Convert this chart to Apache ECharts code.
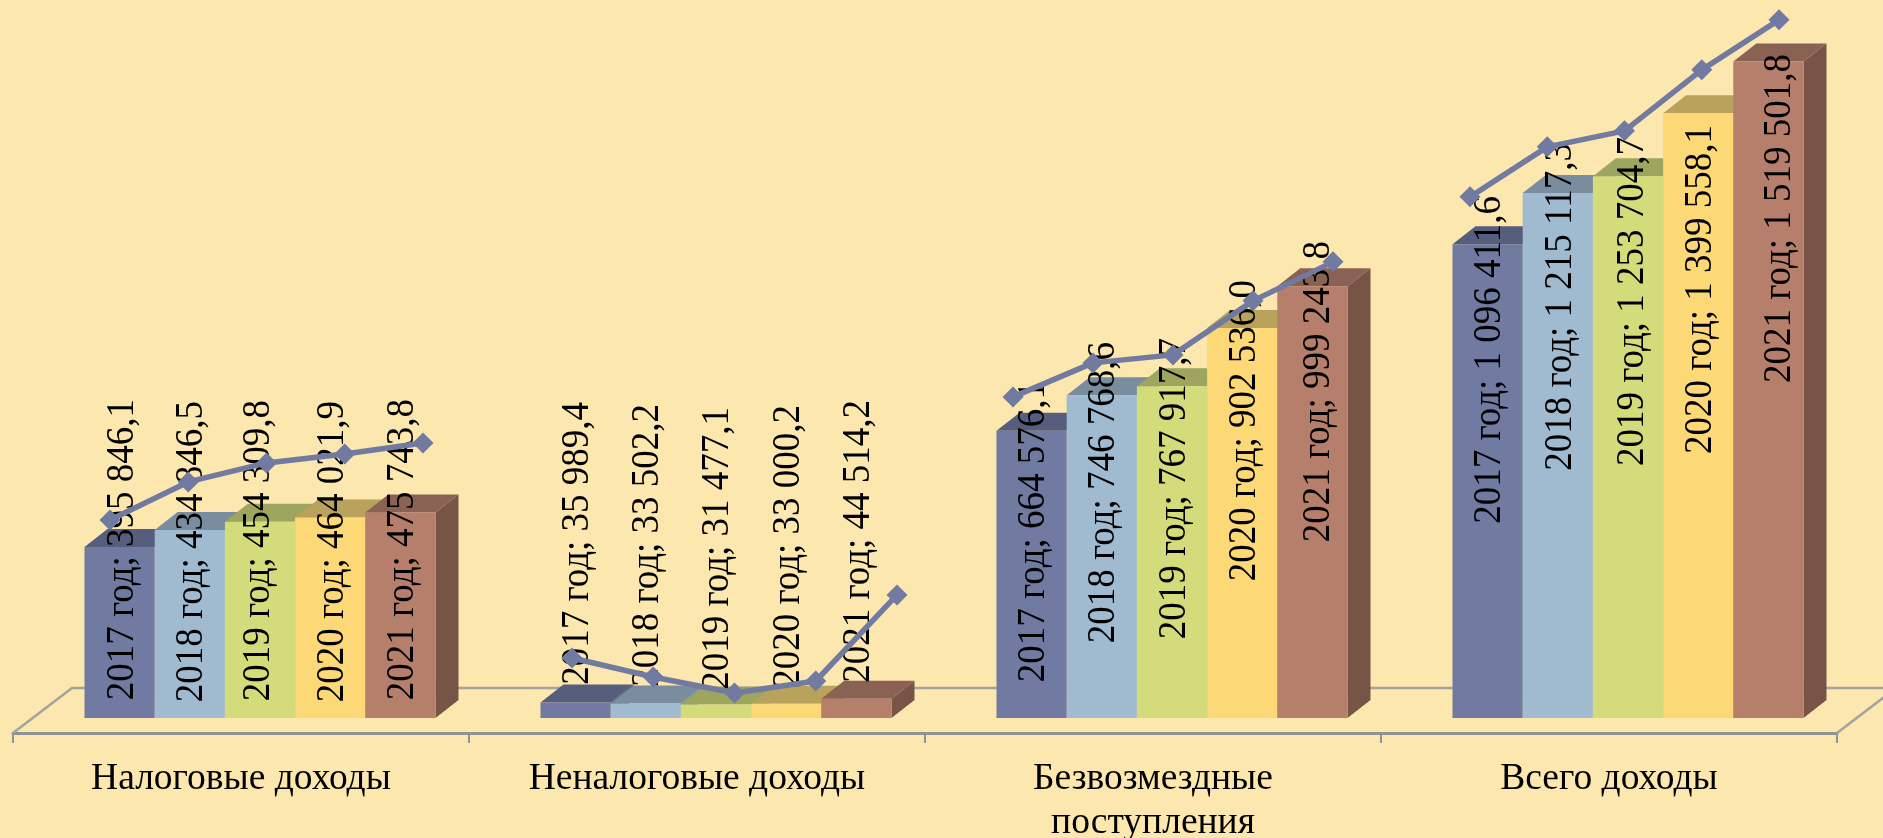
<!DOCTYPE html>
<html style="height: 100%">
<head>
	<meta charset="utf-8">
</head>
<body style="height: 100%; margin: 0; background: #fce7ae">
<div id="container" style="height: 100%"></div>
<script type="text/javascript" src="https://cdn.jsdelivr.net/npm/echarts@6/dist/echarts.min.js"></script>
<script type="text/javascript">
    var categories = ["Налоговые доходы", "Неналоговые доходы", "Безвозмездные\nпоступления", "Всего доходы"];
    var years = ["2017", "2018", "2019", "2020", "2021"];

    // значения столбцов
    var taxIncome = [395846.1, 434846.5, 454309.8, 464021.9, 475743.8];
    var nonTaxIncome = [35989.4, 33502.2, 31477.1, 33000.2, 44514.2];
    var grants = [664576.1, 746768.6, 767917.7, 902536.0, 999243.8];
    var totalIncome = [1096411.6, 1215117.3, 1253704.7, 1399558.1, 1519501.8];

    var taxTrend = [458300, 546300, 590300, 611100, 636600];
    var nonTaxTrend = [138900, 94900, 57900, 85600, 284700];
    var grantsTrend = [743100, 821800, 840300, 965300, 1055600];
    var totalTrend = [1206000, 1321800, 1358800, 1500000, 1615700];

    var barValues = [taxIncome, nonTaxIncome, grants, totalIncome];
    var trendValues = [taxTrend, nonTaxTrend, grantsTrend, totalTrend];

    var frontColors = ['#717aa0', '#a0bacf', '#d4db7a', '#fcd877', '#b67f6c'];
    var topColors = ['#565d7d', '#7a8d9f', '#9ea55e', '#b9a25b', '#8a6254'];
    var sideColors = ['#565d7d', '#7a8d9f', '#9ea55e', '#b9a25b', '#785446'];

    // раскладка в пикселях
    var catPx = 456;
    var barStartPx = 71.5, barWidthPx = 70.2;
    var depthX = 23, depthY = 18;
    var trendStartPx = [97, 103, 88, 89];
    var trendStepPx = [78.25, 81.25, 80, 77.25];
    // на сколько поднят конец подписи над основанием столбца
    var labelRise = [
        [319, 317, 318, 317, 319],
        [316, 314, 311, 313, 318],
        [337, 376, 380, 438, 477],
        [522, 575, 581, 593, 664]
    ];
    // сдвиг подписи вбок от середины столбца
    var labelShift = [
        [1, 0, -3, 0, 0],
        [0, 0, 0, 0, 0],
        [0, 0, 1, 0, 4],
        [0, 1, 3, 0, 9]
    ];
    var labelFont = '37px "Liberation Serif"';

    function fmt(v) {
        var parts = v.toFixed(1).split('.');
        return parts[0].replace(/\B(?=(\d{3})+$)/g, ' ') + ',' + parts[1];
    }

    var barData = [];
    for (var g = 0; g < barValues.length; g++) {
        for (var i = 0; i < years.length; i++) {
            barData.push([g, i, barValues[g][i]]);
        }
    }

    function renderBar(params, api) {
        var g = api.value(0), i = api.value(1);
        var center = api.coord([g, 0]);
        var scale = api.size([1, 0])[0] / catPx;
        var x0 = center[0] - catPx * scale / 2 + (barStartPx + i * barWidthPx) * scale;
        var x1 = x0 + barWidthPx * scale;
        var yb = center[1];
        var yt = api.coord([g, api.value(2)])[1];
        return {
            type: 'group',
            children: [{
                type: 'polygon',
                shape: {points: [[x1, yt], [x1 + depthX, yt - depthY], [x1 + depthX, yb - depthY], [x1, yb]]},
                style: {fill: sideColors[i]}
            }, {
                type: 'polygon',
                shape: {points: [[x0, yt], [x0 + depthX, yt - depthY], [x1 + depthX, yt - depthY], [x1, yt]]},
                style: {fill: topColors[i]}
            }, {
                type: 'rect',
                shape: {x: x0, y: yt, width: x1 - x0, height: yb - yt},
                style: {fill: frontColors[i]}
            }]
        };
    }

    function renderLabel(params, api) {
        var g = api.value(0), i = api.value(1);
        var center = api.coord([g, 0]);
        var scale = api.size([1, 0])[0] / catPx;
        var x0 = center[0] - catPx * scale / 2 + (barStartPx + i * barWidthPx) * scale;
        return {
            type: 'text',
            x: x0 + barWidthPx * scale / 2 + 2 + labelShift[g][i],
            y: center[1] - labelRise[g][i],
            rotation: Math.PI / 2,
            scaleY: 1.08,
            style: {
                text: years[i] + ' год; ' + fmt(api.value(2)),
                font: labelFont,
                fill: '#000',
                textAlign: 'right',
                textVerticalAlign: 'middle'
            }
        };
    }

    // пол диаграммы: задняя линия и боковые рёбра
    function renderFloor(params, api) {
        var a = api.coord([0, 0]);
        var b = api.coord([4, 0]);
        return {
            type: 'polyline',
            shape: {points: [[a[0], a[1] + 15], [a[0] + 59, a[1] - 30], [b[0] + 59, b[1] - 30], [b[0], b[1] + 15]]},
            style: {fill: 'none', stroke: '#a3a39f', lineWidth: 2.5}
        };
    }

    var series = [{
        type: 'custom',
        xAxisIndex: 1,
        renderItem: renderFloor,
        data: [[0, 0]],
        silent: true,
        z: 1
    }, {
        type: 'custom',
        renderItem: renderBar,
        encode: {x: 0, y: 2},
        data: barData,
        z: 2
    }, {
        type: 'custom',
        renderItem: renderLabel,
        encode: {x: 0, y: 2},
        data: barData,
        z: 3
    }];

    for (var t = 0; t < trendValues.length; t++) {
        var pts = [];
        for (var k = 0; k < years.length; k++) {
            pts.push([t + (trendStartPx[t] + k * trendStepPx[t]) / catPx, trendValues[t][k]]);
        }
        series.push({
            type: 'line',
            xAxisIndex: 1,
            data: pts,
            symbol: 'diamond',
            symbolSize: 21,
            showAllSymbol: true,
            lineStyle: {color: '#717aa0', width: 5.5},
            itemStyle: {color: '#717aa0'},
            z: 4
        });
    }

    var option = {
        backgroundColor: '#fce7ae',
        animation: false,
        grid: {left: 13, right: 46, top: 5, bottom: 120, outerBoundsMode: 'none'},
        xAxis: [{
            type: 'category',
            data: categories,
            offset: 15,
            axisLine: {show: true, onZero: false, lineStyle: {color: '#8f9396', width: 3}},
            axisTick: {show: true, length: 10, lineStyle: {color: '#8f9396', width: 2}},
            axisLabel: {
                color: '#000',
                fontFamily: 'Liberation Serif',
                fontSize: 37.5,
                lineHeight: 44,
                margin: 24,
                interval: 0,
                hideOverlap: false
            }
        }, {
            type: 'value',
            min: 0,
            max: 4,
            show: false
        }],
        yAxis: {
            type: 'value',
            min: 0,
            max: 1650000,
            show: false
        },
        series: series
    };

    var dom = document.getElementById("container");
    var myChart = echarts.init(dom);
    myChart.setOption(option, true);
</script>
</body>
</html>
